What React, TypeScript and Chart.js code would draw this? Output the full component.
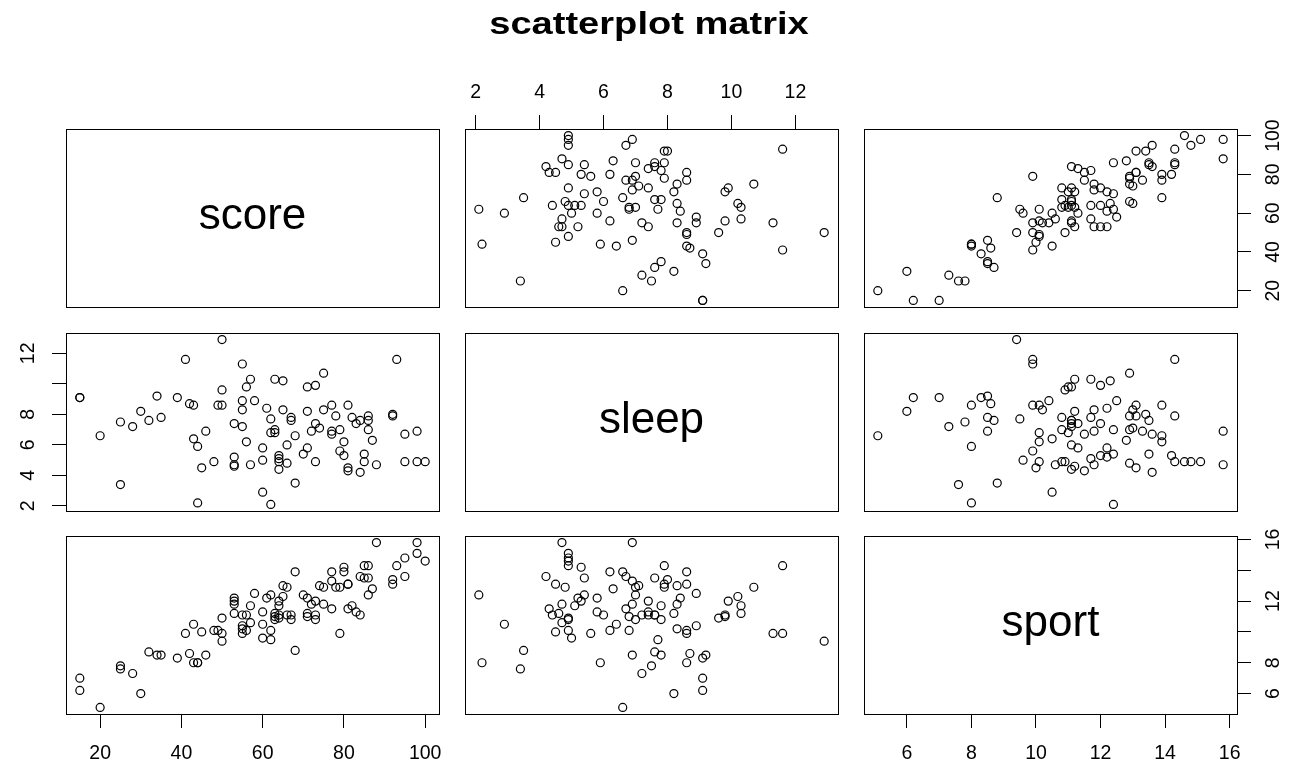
import React, { useEffect, useRef } from 'react';
import { Chart, registerables } from 'chart.js';

Chart.register(...registerables);

// ---------------- data ----------------
const variableNames = ['score', 'sleep', 'sport'];

const score = [
  15, 15, 20, 25, 25, 28, 30, 32, 34, 35, 39, 41, 42, 43, 43, 44, 44, 45, 46, 48,
  49, 50, 50, 50, 53, 53, 53, 53, 55, 55, 55, 55, 56, 56, 57, 57, 58, 60, 60, 60,
  61, 62, 62, 62, 63, 63, 63, 64, 64, 64, 64, 65, 65, 66, 66, 67, 67, 68, 68, 70,
  71, 71, 71, 72, 73, 73, 73, 74, 75, 75, 77, 77, 77, 78, 79, 79, 80, 80, 81, 81,
  81, 82, 83, 84, 84, 85, 86, 85, 86, 86, 87, 88, 92, 92, 93, 95, 95, 98, 98, 100,
];

const sleep = [
  9.1, 9.1, 6.6, 7.5, 3.4, 7.2, 8.2, 7.6, 9.2, 7.8, 9.1, 11.6, 8.7, 6.4, 8.6, 2.2, 5.9, 4.5, 6.9, 4.9,
  8.6, 8.6, 9.6, 12.9, 5.2, 4.6, 7.4, 4.7, 11.3, 8.9, 8.3, 7.2, 9.8, 6.2, 10.3, 4.7, 8.9, 5.8, 2.9, 5.0,
  8.4, 2.1, 7.7, 6.8, 10.3, 7.0, 6.8, 5.3, 5.1, 4.9, 4.4, 10.2, 8.3, 4.8, 6.0, 7.6, 7.8, 6.6, 3.5, 5.4,
  5.8, 8.2, 9.8, 6.9, 9.9, 7.4, 4.9, 7.1, 10.7, 8.3, 8.6, 6.9, 6.7, 7.9, 7.0, 5.6, 5.3, 6.2, 8.6, 4.5,
  4.3, 7.8, 7.4, 7.6, 4.2, 4.9, 7.9, 5.4, 7.6, 7.0, 6.3, 4.7, 8.0, 7.9, 11.6, 4.9, 6.7, 6.9, 4.9, 4.9,
];

const sport = [
  7.0, 6.2, 5.1, 7.8, 7.6, 7.3, 6.0, 8.7, 8.5, 8.5, 8.3, 9.9, 8.6, 10.5, 8.0, 8.0, 8.0, 10.0, 8.5, 10.1,
  10.1, 9.9, 10.9, 9.4, 12.2, 11.2, 12.0, 11.8, 9.9, 10.4, 10.2, 11.1, 11.1, 10.1, 11.7, 10.6, 12.5, 11.3, 10.5, 9.6,
  12.2, 12.4, 9.5, 10.1, 11.2, 10.8, 11.0, 12.0, 11.7, 10.9, 11.1, 12.3, 13.0, 12.9, 11.1, 11.1, 10.8, 13.9, 8.8, 12.4,
  12.2, 11.2, 11.0, 11.8, 12.0, 11.1, 10.8, 13.0, 12.9, 11.8, 13.9, 13.3, 11.5, 12.9, 12.9, 9.9, 14.2, 13.9, 13.1, 13.1,
  11.5, 11.7, 11.3, 11.1, 13.6, 14.3, 14.3, 13.5, 13.5, 12.4, 12.8, 15.8, 13.4, 13.1, 14.3, 14.8, 13.6, 15.8, 15.1, 14.6,
];

const scoreTicks = [20, 40, 60, 80, 100];
const sleepTicks = [2, 4, 6, 8, 10, 12];
const sportTicks = [6, 8, 10, 12, 14, 16];

const scoreBottomLabels = ['20', '40', '60', '80', '100'];
const scoreRightLabels = ['20', '40', '60', '80', '100'];
const sleepTopLabels = ['2', '4', '6', '8', '10', '12'];
const sleepLeftLabels = ['2', '4', '6', '8', '', '12'];
const sportBottomLabels = ['6', '8', '10', '12', '14', '16'];
const sportRightLabels = ['6', '8', '', '12', '', '16'];

const titleText = 'scatterplot matrix';

// ---------------- layout / style ----------------
const FONT = '"Liberation Sans", Arial, Helvetica, sans-serif';
const TICK_SIZE = 19.5;
const TICK_LEN = 14;
const Y_LABEL_DIST = 37;
const BOTTOM_PAD = 14.3;
const TOP_PAD = 10.8;
const COL_LEFT = [66, 465, 864];
const ROW_TOP = [129, 333, 536];
const PANEL_W = 373;
const PANEL_H = 178;
const DIAG_SIZE = 44;
const TITLE_SIZE = 32;
const TITLE_STRETCH = 1.19;
const TITLE_X = 649;
const TITLE_BASELINE = 34;

const vars = [score, sleep, sport];
const tickSets = [scoreTicks, sleepTicks, sportTicks];

function limits(a: number[]): [number, number] {
  const mn = Math.min(...a);
  const mx = Math.max(...a);
  const d = (mx - mn) * 0.04;
  return [mn - d, mx + d];
}

function yPad(labels: string[]) {
  const longest = Math.max(...labels.map((l) => l.length));
  return Y_LABEL_DIST - TICK_LEN - (longest * 0.556 * TICK_SIZE) / 2;
}

function makeAxis(
  axis: 'x' | 'y',
  position: string,
  lim: [number, number],
  ticks: number[],
  labels: string[] | null,
  size: number,
  pad: number
) {
  const horizontal = axis === 'x';
  return {
    type: 'linear',
    axis,
    position,
    min: lim[0],
    max: lim[1],
    bounds: 'data',
    display: true,
    afterBuildTicks: (s: any) => {
      s.ticks = ticks.map((v) => ({ value: v }));
    },
    afterFit: (s: any) => {
      if (horizontal) s.height = size;
      else s.width = size;
      s.paddingLeft = 0;
      s.paddingRight = 0;
      s.paddingTop = 0;
      s.paddingBottom = 0;
    },
    border: { display: true, color: '#000', width: 1 },
    grid: {
      display: !!labels,
      drawOnChartArea: false,
      drawTicks: true,
      tickLength: TICK_LEN,
      color: '#000',
      lineWidth: 1,
    },
    ticks: {
      display: !!labels,
      autoSkip: false,
      minRotation: horizontal ? 0 : 90,
      maxRotation: horizontal ? 0 : 90,
      crossAlign: horizontal ? 'near' : 'center',
      padding: pad,
      color: '#000',
      font: { family: FONT, size: TICK_SIZE },
      callback: (_v: any, i: number) => (labels ? labels[i] : ''),
    },
  };
}

function margins(r: number, c: number) {
  return {
    l: 60,
    r: 60,
    t: r === 0 && c === 1 ? ROW_TOP[0] : 60,
    b: r === 2 ? 48 : 60,
  };
}

function Panel({ r, c }: { r: number; c: number }) {
  const ref = useRef<HTMLCanvasElement>(null);
  const m = margins(r, c);
  const W = PANEL_W + m.l + m.r;
  const H = PANEL_H + m.t + m.b;
  const left = COL_LEFT[c] - m.l;
  const top = ROW_TOP[r] - m.t;

  useEffect(() => {
    const xLim = limits(vars[c]);
    const yLim = limits(vars[r]);

    let topLabels: string[] | null = null;
    let bottomLabels: string[] | null = null;
    let leftLabels: string[] | null = null;
    let rightLabels: string[] | null = null;
    if (r === 0 && c === 1) topLabels = sleepTopLabels;
    if (r === 2 && c === 0) bottomLabels = scoreBottomLabels;
    if (r === 2 && c === 2) bottomLabels = sportBottomLabels;
    if (c === 0 && r === 1) leftLabels = sleepLeftLabels;
    if (c === 2 && r === 0) rightLabels = scoreRightLabels;
    if (c === 2 && r === 2) rightLabels = sportRightLabels;

    const datasets: any[] = [];
    if (r !== c) {
      datasets.push({
        data: vars[c].map((v, i) => ({ x: v, y: vars[r][i] })),
        pointRadius: 4,
        pointBorderWidth: 1.2,
        pointStyle: 'circle',
        borderColor: '#000',
        backgroundColor: 'rgba(0,0,0,0)',
        showLine: false,
        xAxisID: 'x',
        yAxisID: 'y',
      });
    }

    const plugins: any[] = [];
    if (r === c) {
      plugins.push({
        id: 'diagText',
        afterDraw(chart: any) {
          const { ctx, chartArea: a } = chart;
          ctx.save();
          ctx.font = `${DIAG_SIZE}px ${FONT}`;
          ctx.fillStyle = '#000';
          ctx.textAlign = 'center';
          ctx.textBaseline = 'alphabetic';
          ctx.fillText(variableNames[r], (a.left + a.right) / 2, (a.top + a.bottom) / 2 + 0.26 * DIAG_SIZE);
          ctx.restore();
        },
      });
    }
    if (r === 0 && c === 1) {
      plugins.push({
        id: 'matrixTitle',
        afterDraw(chart: any) {
          const { ctx } = chart;
          ctx.save();
          ctx.font = `bold ${TITLE_SIZE}px ${FONT}`;
          ctx.fillStyle = '#000';
          ctx.textAlign = 'center';
          ctx.textBaseline = 'alphabetic';
          ctx.translate(TITLE_X - left, TITLE_BASELINE - top);
          ctx.scale(TITLE_STRETCH, 1);
          ctx.fillText(titleText, 0, 0);
          ctx.restore();
        },
      });
    }

    const chart = new Chart(ref.current as HTMLCanvasElement, {
      type: 'scatter',
      data: { datasets },
      options: {
        responsive: false,
        maintainAspectRatio: false,
        animation: false,
        events: [],
        layout: { padding: 0 },
        plugins: {
          legend: { display: false },
          tooltip: { enabled: false },
          title: { display: false },
        },
        scales: {
          x: makeAxis('x', 'bottom', xLim, tickSets[c], bottomLabels, m.b, BOTTOM_PAD),
          x2: makeAxis('x', 'top', xLim, tickSets[c], topLabels, m.t, TOP_PAD),
          y: makeAxis('y', 'left', yLim, tickSets[r], leftLabels, m.l, leftLabels ? yPad(leftLabels) : 0),
          y2: makeAxis('y', 'right', yLim, tickSets[r], rightLabels, m.r, rightLabels ? yPad(rightLabels) : 0),
        },
      } as any,
      plugins,
    });
    return () => chart.destroy();
  }, []);

  return (
    <canvas
      ref={ref}
      width={W}
      height={H}
      style={{ position: 'absolute', left, top, width: W, height: H }}
    />
  );
}

export default function App() {
  const panels: React.ReactNode[] = [];
  for (let r = 0; r < 3; r++) {
    for (let c = 0; c < 3; c++) {
      panels.push(<Panel key={`${r}-${c}`} r={r} c={c} />);
    }
  }
  return (
    <div
      style={{
        position: 'absolute',
        left: 0,
        top: 0,
        width: 1307,
        height: 765,
        overflow: 'hidden',
        background: '#fff',
      }}
    >
      {panels}
    </div>
  );
}
